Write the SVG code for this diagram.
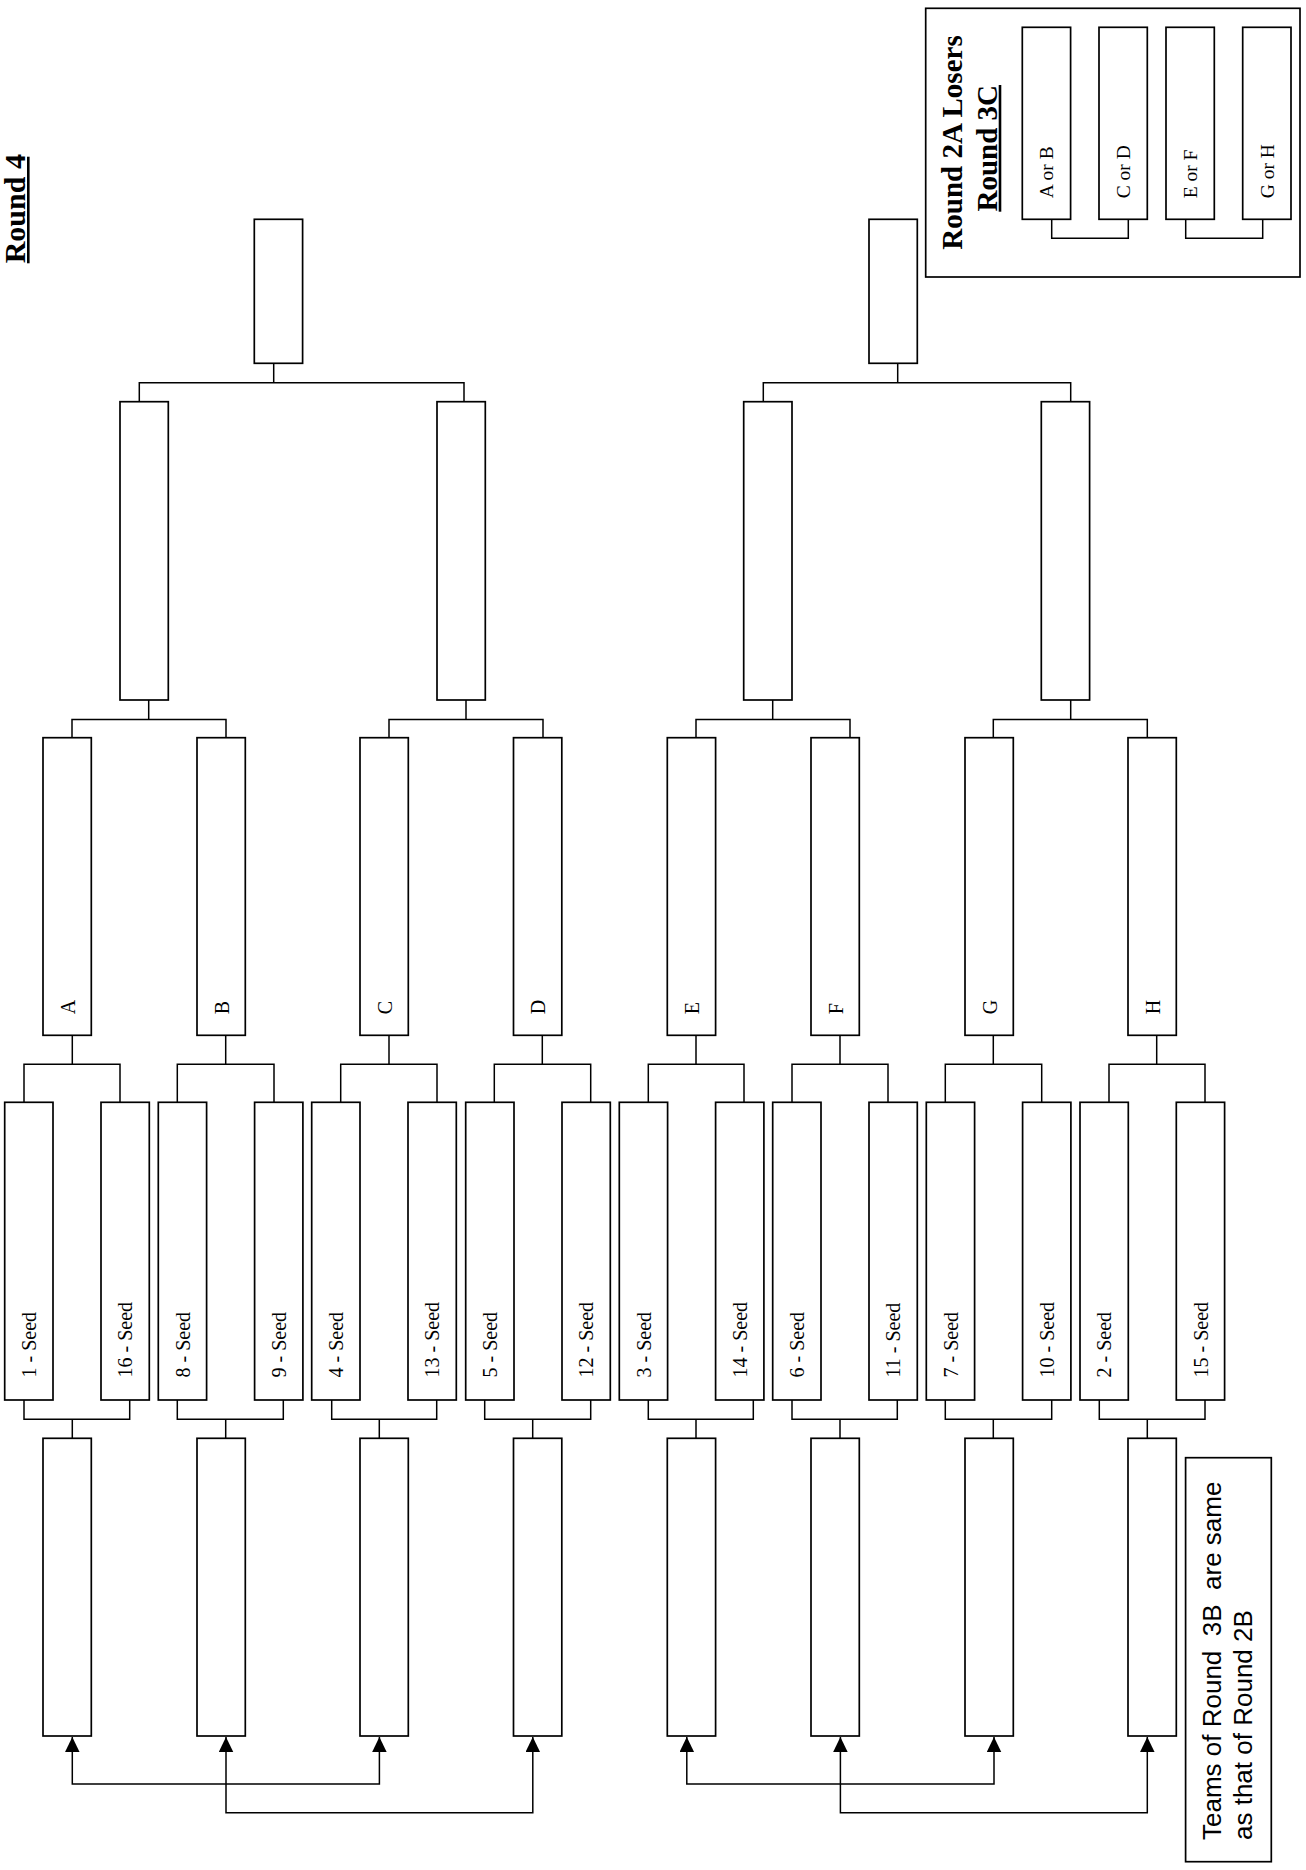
<svg xmlns="http://www.w3.org/2000/svg" width="1306" height="1870" viewBox="0 0 1306 1870">
<style>
.box{fill:#fff;stroke:#000;stroke-width:1.7}
.frame{fill:none;stroke:#000;stroke-width:1.7}
.conn{fill:none;stroke:#000;stroke-width:1.5}
.ul{stroke:#000;stroke-width:2.6}
.lbl{font-family:"Liberation Serif","Times New Roman",serif;font-size:20px;fill:#000}
.small{font-family:"Liberation Serif","Times New Roman",serif;font-size:19.5px;fill:#000}
.title{font-family:"Liberation Serif","Times New Roman",serif;font-size:30px;font-weight:bold;fill:#000}
.note{font-family:"Liberation Sans",Arial,sans-serif;font-size:26px;fill:#000}
</style>
<defs>
<marker id="arr" markerUnits="userSpaceOnUse" markerWidth="16" markerHeight="15" refX="15" refY="7.25" orient="auto-start-reverse" viewBox="0 0 16 15">
<path d="M0,0 L15,7.25 L0,14.5 z" fill="#000"/>
</marker>
</defs>
<rect width="1306" height="1870" fill="#fff"/>

<g id="title-round4">
<text class="title" transform="translate(24.5,263.3) rotate(-90)">Round 4</text>
<line class="ul" x1="28.3" y1="156.7" x2="28.3" y2="263.3"/>
</g>

<g id="round3c-panel">
<rect class="frame" x="925.7" y="8.3" width="374.3" height="268.7"/>
<text class="title" style="font-size:29px" text-anchor="middle" transform="translate(961.7,142.5) rotate(-90)">Round 2A Losers</text>
<text class="title" style="font-size:29px" text-anchor="middle" transform="translate(996.7,148.3) rotate(-90)">Round 3C</text>
<line class="ul" x1="1000" y1="85" x2="1000" y2="211.7"/>
</g>

<g id="connectors">
<path class="conn" d="M273.7 363.3V382.7M139.3 401.7V382.7H464V401.7"/>
<path class="conn" d="M897.7 363.3V382.7M763.3 401.7V382.7H1070.7V401.7"/>
<path class="conn" d="M148.7 700V719.5M72 737.7V719.5H226V737.7"/>
<path class="conn" d="M466 700V719.5M389 737.7V719.5H543V737.7"/>
<path class="conn" d="M772.7 700V719.5M696 737.7V719.5H850V737.7"/>
<path class="conn" d="M1070.7 700V719.5M993.3 737.7V719.5H1147.3V737.7"/>
<path class="conn" d="M72.3 1035.3V1064.3M24 1102.3V1064.3H120V1102.3"/>
<path class="conn" d="M225.7 1035.3V1064.3M177.3 1102.3V1064.3H274V1102.3"/>
<path class="conn" d="M389 1035.3V1064.3M340.7 1102.3V1064.3H437V1102.3"/>
<path class="conn" d="M542.3 1035.3V1064.3M494.3 1102.3V1064.3H590.7V1102.3"/>
<path class="conn" d="M696 1035.3V1064.3M648.3 1102.3V1064.3H744V1102.3"/>
<path class="conn" d="M840 1035.3V1064.3M792 1102.3V1064.3H888V1102.3"/>
<path class="conn" d="M993.3 1035.3V1064.3M945.3 1102.3V1064.3H1041.7V1102.3"/>
<path class="conn" d="M1156.7 1035.3V1064.3M1109 1102.3V1064.3H1205V1102.3"/>
<path class="conn" d="M24 1400V1419.3H129.7V1400M72.3 1419.3V1438.3"/>
<path class="conn" d="M177.3 1400V1419.3H283.3V1400M225.7 1419.3V1438.3"/>
<path class="conn" d="M331.7 1400V1419.3H436.7V1400M379.3 1419.3V1438.3"/>
<path class="conn" d="M484.7 1400V1419.3H590.7V1400M532.7 1419.3V1438.3"/>
<path class="conn" d="M648.3 1400V1419.3H753.3V1400M696 1419.3V1438.3"/>
<path class="conn" d="M792 1400V1419.3H897.3V1400M840 1419.3V1438.3"/>
<path class="conn" d="M945.3 1400V1419.3H1051.7V1400M993.3 1419.3V1438.3"/>
<path class="conn" d="M1099.3 1400V1419.3H1205V1400M1147.3 1419.3V1438.3"/>
<path class="conn" d="M72.3 1737V1784H379.4V1737" marker-start="url(#arr)" marker-end="url(#arr)"/>
<path class="conn" d="M226 1737V1812.7H532.8V1737" marker-start="url(#arr)" marker-end="url(#arr)"/>
<path class="conn" d="M686.8 1737V1784H994V1737" marker-start="url(#arr)" marker-end="url(#arr)"/>
<path class="conn" d="M840.4 1737V1812.7H1147.3V1737" marker-start="url(#arr)" marker-end="url(#arr)"/>
<path class="conn" d="M1051.7 219.3V238.3H1128.3V219.3"/>
<path class="conn" d="M1185.7 219.3V238.3H1262.7V219.3"/>
</g>

<g id="final-1"><rect class="box" x="254.3" y="219.3" width="48.3" height="144"/></g>
<g id="final-2"><rect class="box" x="869" y="219.3" width="48.3" height="144"/></g>

<g id="semi-1"><rect class="box" x="120" y="401.7" width="48.3" height="298.3"/></g>
<g id="semi-2"><rect class="box" x="437" y="401.7" width="48.3" height="298.3"/></g>
<g id="semi-3"><rect class="box" x="743.7" y="401.7" width="48.3" height="298.3"/></g>
<g id="semi-4"><rect class="box" x="1041.3" y="401.7" width="48.3" height="298.3"/></g>

<g id="quarter-A"><rect class="box" x="43" y="737.7" width="48.3" height="297.6"/><text class="lbl" transform="translate(74.6,1014.3) rotate(-90)">A</text></g>
<g id="quarter-B"><rect class="box" x="197" y="737.7" width="48.3" height="297.6"/><text class="lbl" transform="translate(228.6,1014.3) rotate(-90)">B</text></g>
<g id="quarter-C"><rect class="box" x="360" y="737.7" width="48.3" height="297.6"/><text class="lbl" transform="translate(391.6,1014.3) rotate(-90)">C</text></g>
<g id="quarter-D"><rect class="box" x="513.5" y="737.7" width="48.3" height="297.6"/><text class="lbl" transform="translate(545.1,1014.3) rotate(-90)">D</text></g>
<g id="quarter-E"><rect class="box" x="667.3" y="737.7" width="48.3" height="297.6"/><text class="lbl" transform="translate(698.9,1014.3) rotate(-90)">E</text></g>
<g id="quarter-F"><rect class="box" x="811" y="737.7" width="48.3" height="297.6"/><text class="lbl" transform="translate(842.6,1014.3) rotate(-90)">F</text></g>
<g id="quarter-G"><rect class="box" x="965" y="737.7" width="48.3" height="297.6"/><text class="lbl" transform="translate(996.6,1014.3) rotate(-90)">G</text></g>
<g id="quarter-H"><rect class="box" x="1128" y="737.7" width="48.3" height="297.6"/><text class="lbl" transform="translate(1159.6,1014.3) rotate(-90)">H</text></g>

<g id="seed-1"><rect class="box" x="4.7" y="1102.3" width="48.3" height="297.7"/><text class="lbl" transform="translate(35.9,1377.5) rotate(-90)">1 - Seed</text></g>
<g id="seed-16"><rect class="box" x="101" y="1102.3" width="48.3" height="297.7"/><text class="lbl" transform="translate(132.2,1377.5) rotate(-90)">16 - Seed</text></g>
<g id="seed-8"><rect class="box" x="158.3" y="1102.3" width="48.3" height="297.7"/><text class="lbl" transform="translate(189.5,1377.5) rotate(-90)">8 - Seed</text></g>
<g id="seed-9"><rect class="box" x="254.6" y="1102.3" width="48.3" height="297.7"/><text class="lbl" transform="translate(285.8,1377.5) rotate(-90)">9 - Seed</text></g>
<g id="seed-4"><rect class="box" x="311.7" y="1102.3" width="48.3" height="297.7"/><text class="lbl" transform="translate(342.9,1377.5) rotate(-90)">4 - Seed</text></g>
<g id="seed-13"><rect class="box" x="408" y="1102.3" width="48.3" height="297.7"/><text class="lbl" transform="translate(439.2,1377.5) rotate(-90)">13 - Seed</text></g>
<g id="seed-5"><rect class="box" x="465.7" y="1102.3" width="48.3" height="297.7"/><text class="lbl" transform="translate(496.9,1377.5) rotate(-90)">5 - Seed</text></g>
<g id="seed-12"><rect class="box" x="562" y="1102.3" width="48.3" height="297.7"/><text class="lbl" transform="translate(593.2,1377.5) rotate(-90)">12 - Seed</text></g>
<g id="seed-3"><rect class="box" x="619.3" y="1102.3" width="48.3" height="297.7"/><text class="lbl" transform="translate(650.5,1377.5) rotate(-90)">3 - Seed</text></g>
<g id="seed-14"><rect class="box" x="715.6" y="1102.3" width="48.3" height="297.7"/><text class="lbl" transform="translate(746.8,1377.5) rotate(-90)">14 - Seed</text></g>
<g id="seed-6"><rect class="box" x="772.7" y="1102.3" width="48.3" height="297.7"/><text class="lbl" transform="translate(803.9,1377.5) rotate(-90)">6 - Seed</text></g>
<g id="seed-11"><rect class="box" x="869" y="1102.3" width="48.3" height="297.7"/><text class="lbl" transform="translate(900.2,1377.5) rotate(-90)">11 - Seed</text></g>
<g id="seed-7"><rect class="box" x="926.3" y="1102.3" width="48.3" height="297.7"/><text class="lbl" transform="translate(957.5,1377.5) rotate(-90)">7 - Seed</text></g>
<g id="seed-10"><rect class="box" x="1022.6" y="1102.3" width="48.3" height="297.7"/><text class="lbl" transform="translate(1053.8,1377.5) rotate(-90)">10 - Seed</text></g>
<g id="seed-2"><rect class="box" x="1080" y="1102.3" width="48.3" height="297.7"/><text class="lbl" transform="translate(1111.2,1377.5) rotate(-90)">2 - Seed</text></g>
<g id="seed-15"><rect class="box" x="1176.3" y="1102.3" width="48.3" height="297.7"/><text class="lbl" transform="translate(1207.5,1377.5) rotate(-90)">15 - Seed</text></g>

<g id="r3b-1"><rect class="box" x="43" y="1438.3" width="48.3" height="297.7"/></g>
<g id="r3b-2"><rect class="box" x="197" y="1438.3" width="48.3" height="297.7"/></g>
<g id="r3b-3"><rect class="box" x="360" y="1438.3" width="48.3" height="297.7"/></g>
<g id="r3b-4"><rect class="box" x="513.5" y="1438.3" width="48.3" height="297.7"/></g>
<g id="r3b-5"><rect class="box" x="667.3" y="1438.3" width="48.3" height="297.7"/></g>
<g id="r3b-6"><rect class="box" x="811" y="1438.3" width="48.3" height="297.7"/></g>
<g id="r3b-7"><rect class="box" x="965" y="1438.3" width="48.3" height="297.7"/></g>
<g id="r3b-8"><rect class="box" x="1128" y="1438.3" width="48.3" height="297.7"/></g>

<g id="note-r3b">
<rect class="box" x="1185.6" y="1457.7" width="85.7" height="404"/>
<text class="note" xml:space="preserve" transform="translate(1221,1840) rotate(-90)">Teams of Round  3B  are same</text>
<text class="note" transform="translate(1252,1840) rotate(-90)">as that of Round 2B</text>
</g>

<g id="r3c-AB"><rect class="box" x="1022.3" y="27.3" width="48.3" height="192"/><text class="small" transform="translate(1053.3,198.3) rotate(-90)">A or B</text></g>
<g id="r3c-CD"><rect class="box" x="1099" y="27.3" width="48.3" height="192"/><text class="small" transform="translate(1130,198.3) rotate(-90)">C or D</text></g>
<g id="r3c-EF"><rect class="box" x="1166" y="27.3" width="48.3" height="192"/><text class="small" transform="translate(1197,198.3) rotate(-90)">E or F</text></g>
<g id="r3c-GH"><rect class="box" x="1242.7" y="27.3" width="48.3" height="192"/><text class="small" transform="translate(1273.7,198.3) rotate(-90)">G or H</text></g>
</svg>
